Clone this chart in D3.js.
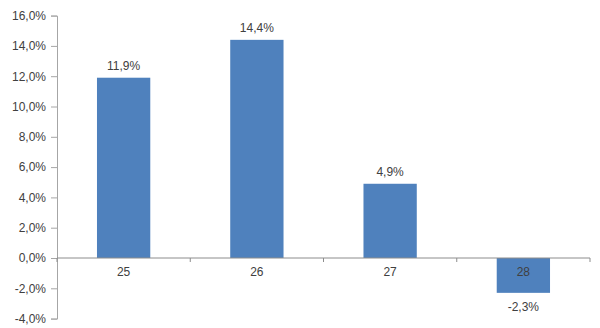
<!DOCTYPE html>
<html lang="en">
<head>
<meta charset="utf-8">
<title>Bars</title>
<script src="https://d3js.org/d3.v7.min.js"></script>
<style>
  body { margin: 0; background: #fff; }
  svg text { font-family: "Liberation Sans", Arial, sans-serif; font-size: 12px; fill: #404040; }
</style>
</head>
<body>
<script>
// values
var categories = ["25", "26", "27", "28"];
var values = [11.9, 14.4, 4.9, -2.3];
var yTicks = [-4, -2, 0, 2, 4, 6, 8, 10, 12, 14, 16];

var w = 600, h = 328;
var padLeft = 57, padRight = 590, padTop = 15.6, padBottom = 318.6;

var fmt = function (v) { return d3.format(".1f")(v).replace(".", ",").replace("−", "-") + "%"; };

var svg = d3.select("body").append("svg")
  .attr("width", w)
  .attr("height", h);

var x = d3.scaleBand().domain(categories).range([padLeft, padRight]).paddingInner(0.6).paddingOuter(0.3);
var y = d3.scaleLinear().domain([-4, 16]).range([padBottom, padTop]);

// bars
svg.selectAll("rect.bar")
  .data(values)
  .enter()
  .append("rect")
  .attr("class", "bar")
  .attr("x", function (d, i) { return x(categories[i]); })
  .attr("y", function (d) { return y(Math.max(0, d)); })
  .attr("width", x.bandwidth())
  .attr("height", function (d) { return Math.abs(y(d) - y(0)); })
  .attr("fill", "#4F81BD");

// value labels
svg.selectAll("text.val")
  .data(values)
  .enter()
  .append("text")
  .attr("class", "val")
  .attr("text-anchor", "middle")
  .attr("x", function (d, i) { return x(categories[i]) + x.bandwidth() / 2; })
  .attr("y", function (d) { return d >= 0 ? y(d) - 8 : y(d) + 18; })
  .text(fmt);

// y axis
var yAxis = svg.append("g")
  .attr("transform", "translate(" + padLeft + ",0)")
  .call(d3.axisLeft(y).tickValues(yTicks).tickFormat(fmt).tickSize(6).tickPadding(5));
yAxis.selectAll("line, path").attr("stroke", "#a6a6a6");
yAxis.selectAll("text").style("font-size", "12px").attr("fill", "#404040");

// zero line with ticks between categories
var step = x.step();
var bounds = d3.range(categories.length + 1).map(function (i) { return padLeft + i * step; });
svg.append("line")
  .attr("x1", padLeft).attr("x2", padRight)
  .attr("y1", y(0)).attr("y2", y(0))
  .attr("stroke", "#8c8c8c");
svg.selectAll("line.ctick")
  .data(bounds)
  .enter()
  .append("line")
  .attr("class", "ctick")
  .attr("x1", function (d) { return d; })
  .attr("x2", function (d) { return d; })
  .attr("y1", y(0))
  .attr("y2", y(0) + 4)
  .attr("stroke", "#8c8c8c");

// category labels
svg.selectAll("text.cat")
  .data(categories)
  .enter()
  .append("text")
  .attr("class", "cat")
  .attr("text-anchor", "middle")
  .attr("x", function (d) { return x(d) + x.bandwidth() / 2; })
  .attr("y", y(0) + 18)
  .text(function (d) { return d; });
</script>
</body>
</html>
